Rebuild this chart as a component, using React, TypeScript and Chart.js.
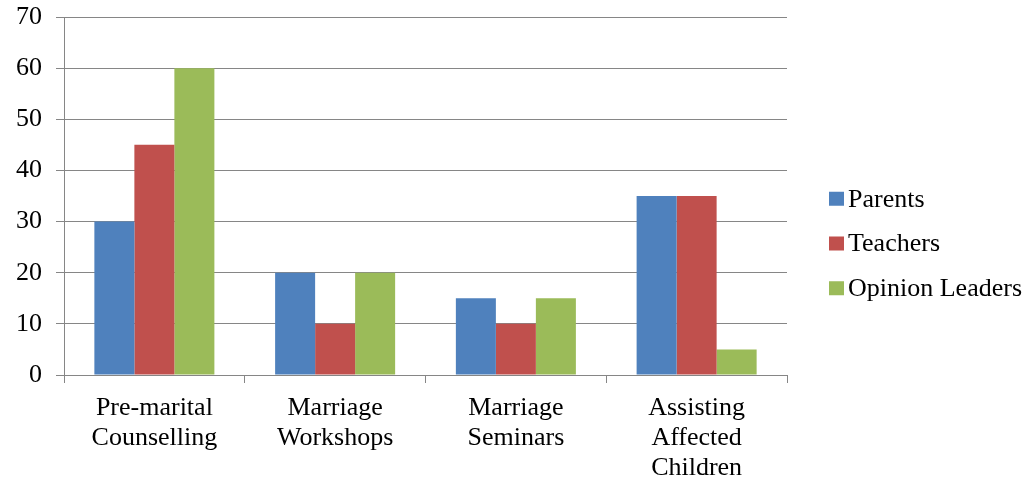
import React, { useEffect, useRef } from "react";
import { Chart, registerables } from "chart.js";

Chart.register(...registerables);

const categories: string[][] = [
  ["Pre-marital", "Counselling"],
  ["Marriage", "Workshops"],
  ["Marriage", "Seminars"],
  ["Assisting", "Affected", "Children"],
];
const parents = [30, 20, 15, 35];
const teachers = [45, 10, 10, 35];
const opinionLeaders = [60, 20, 15, 5];
const seriesNames = ["Parents", "Teachers", "Opinion Leaders"];
const seriesColors = ["#4F81BD", "#C0504D", "#9BBB59"];
const yTicks = { min: 0, max: 70, step: 10 };

const FONT = "'Liberation Serif', 'Times New Roman', serif";
const GRID = "#868686";

const legendPlugin = {
  id: "customLegend",
  afterDraw(chart: any) {
    const ctx = chart.ctx;
    const area = chart.chartArea;
    const ds = chart.data.datasets;
    const spacing = 44.75;
    const cy = chart.height / 2 + 3.5;
    const x0 = area.right + 42;
    ctx.save();
    ctx.font = `26px ${FONT}`;
    ctx.textBaseline = "middle";
    ctx.textAlign = "left";
    ds.forEach((d: any, i: number) => {
      const y = cy + (i - (ds.length - 1) / 2) * spacing;
      ctx.fillStyle = d.backgroundColor;
      ctx.fillRect(x0, y - 7, 15, 14);
      ctx.fillStyle = "#000";
      ctx.fillText(d.label, x0 + 19, y + 1);
    });
    ctx.restore();
  },
};

export default function App() {
  const ref = useRef<HTMLCanvasElement>(null);
  useEffect(() => {
    document.body.style.margin = "0";
    const values = [parents, teachers, opinionLeaders];
    const chart = new Chart(ref.current!, {
      type: "bar",
      data: {
        labels: categories,
        datasets: values.map((v, i) => ({
          label: seriesNames[i],
          data: v,
          backgroundColor: seriesColors[i],
          borderWidth: 0,
          barPercentage: 1,
          categoryPercentage: 0.664,
        })),
      },
      options: {
        responsive: false,
        animation: false,
        layout: { padding: { top: 17, right: 245, left: 0, bottom: 0 } },
        plugins: { legend: { display: false }, tooltip: { enabled: false } },
        scales: {
          x: {
            grid: {
              offset: true,
              drawOnChartArea: false,
              drawTicks: true,
              tickLength: 8,
              color: GRID,
            },
            border: { color: GRID, width: 1 },
            ticks: {
              color: "#000",
              font: { family: FONT, size: 26, lineHeight: 1.15 },
              padding: 10,
              maxRotation: 0,
              autoSkip: false,
            },
            afterFit(scale: any) {
              scale.height = 105;
              scale.paddingLeft = 0;
              scale.paddingRight = 0;
            },
          },
          y: {
            min: yTicks.min,
            max: yTicks.max,
            grid: { color: GRID, tickLength: 8, drawTicks: true },
            border: { color: GRID, width: 1 },
            ticks: {
              stepSize: yTicks.step,
              color: "#000",
              font: { family: FONT, size: 26 },
              padding: 14,
            },
            afterFit(scale: any) {
              scale.width = 64;
              scale.paddingTop = 0;
              scale.paddingBottom = 0;
            },
          },
        },
      },
      plugins: [legendPlugin],
    });
    return () => chart.destroy();
  }, []);
  return <canvas ref={ref} width={1032} height={480} style={{ display: "block" }} />;
}
